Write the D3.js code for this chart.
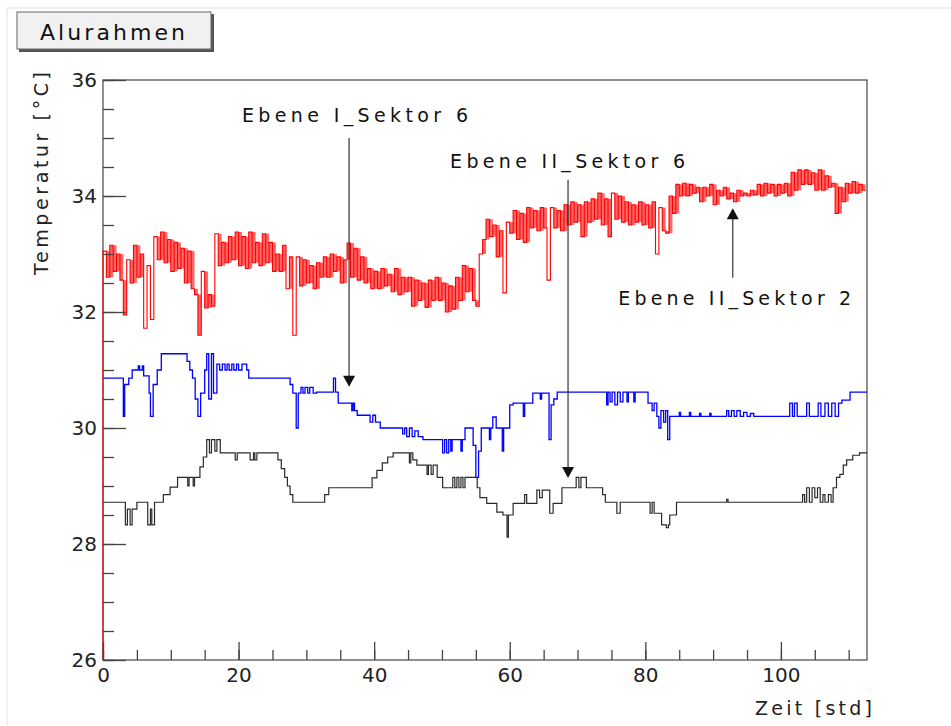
<!DOCTYPE html>
<html>
<head>
<meta charset="utf-8">
<script src="https://cdn.jsdelivr.net/npm/d3@7"></script>
<style>
  body { margin: 0; background: #fff; }
  svg { display: block; font-family: "DejaVu Sans", "Liberation Sans", sans-serif; }
</style>
</head>
<body>
<svg id="chart" width="951" height="726"></svg>
<script>
// time axis in hours, temperature in degC
const xDomain = [0, 112.7]
const yDomain = [26, 36]
const xMajorTicks = [0, 20, 40, 60, 80, 100]
const yMajorTicks = [26, 28, 30, 32, 34, 36]

// Ebene II_Sektor 2 (red) - sampled every half hour, starting at t = 0
const redStep = 0.5
const redTemp = [
  26.0, 33.05, 32.6, 33.15, 32.7, 33.0, 32.55, 31.95, 32.9, 32.5,      // 0 - 4.5
  33.15, 32.6, 33.0, 31.72, 32.8, 31.87, 33.3, 32.9, 33.38, 32.85,     // 5 - 9.5
  33.25, 32.7, 33.2, 32.75, 33.1, 32.5, 33.05, 32.4, 32.3, 31.6,       // 10 - 14.5
  32.7, 32.07, 32.3, 32.1, 33.35, 32.8, 33.2, 32.85, 33.3, 32.9,       // 15 - 19.5
  33.38, 32.8, 33.3, 32.75, 33.38, 32.85, 33.2, 32.8, 33.35, 32.85,    // 20 - 24.5
  33.2, 32.7, 33.0, 32.7, 33.15, 32.4, 32.95, 31.6, 32.95, 32.45,      // 25 - 29.5
  32.9, 32.5, 32.8, 32.4, 32.85, 32.6, 32.95, 32.6, 33.0, 32.7,        // 30 - 34.5
  32.95, 32.5, 32.9, 33.19, 32.6, 33.1, 32.55, 32.95, 32.5, 32.75,     // 35 - 39.5
  32.4, 32.7, 32.4, 32.75, 32.45, 32.65, 32.35, 32.75, 32.3, 32.6,     // 40 - 44.5
  32.35, 32.6, 32.1, 32.55, 32.2, 32.5, 32.08, 32.55, 32.2, 32.6,      // 45 - 49.5
  32.2, 32.5, 32.0, 32.45, 32.05, 32.6, 32.2, 32.8, 32.35, 32.75,      // 50 - 54.5
  32.2, 32.1, 33.0, 33.25, 33.6, 33.3, 33.5, 32.95, 33.4, 32.33,       // 55 - 59.5
  33.55, 33.36, 33.75, 33.25, 33.7, 33.2, 33.8, 33.45, 33.75, 33.4,    // 60 - 64.5
  33.8, 33.45, 32.55, 33.8, 33.45, 33.75, 33.4, 33.85, 33.5, 33.9,     // 65 - 69.5
  33.55, 33.85, 33.3, 33.9, 33.55, 33.95, 33.6, 34.05, 33.5, 33.95,    // 70 - 74.5
  33.3, 34.05, 33.6, 34.0, 33.55, 33.9, 33.5, 33.85, 33.55, 33.9,      // 75 - 79.5
  33.5, 33.85, 33.45, 33.9, 33.0, 33.8, 33.4, 33.36, 34.0, 33.7,       // 80 - 84.5
  34.2, 34.0, 34.22, 34.0, 34.2, 34.05, 34.15, 33.9, 34.15, 34.0,      // 85 - 89.5
  34.2, 33.85, 34.1, 34.0, 34.15, 33.95, 34.05, 33.9, 34.1, 34.0,      // 90 - 94.5
  34.05, 34.0, 34.1, 34.02, 34.2, 34.0, 34.22, 34.05, 34.2, 34.0,      // 95 - 99.5
  34.2, 34.05, 34.22, 34.0, 34.41, 34.1, 34.45, 34.2, 34.45, 34.2,     // 100 - 104.5
  34.4, 34.1, 34.45, 34.1, 34.35, 34.15, 34.22, 33.7, 34.15, 33.9,     // 105 - 109.5
  34.22, 34.05, 34.25, 34.05, 34.2, 34.1                               // 110 - 112.5
]

// Ebene I_Sektor 6 (blue) - change points of the step trace
const blueTime = [
  0, 3.0, 3.2, 3.8, 4.3, 5.2, 5.4, 5.8, 6.0, 6.8, 7.0, 7.4, 8.0, 8.6,
  12.4, 12.8, 13.2, 13.6, 14.0, 14.4, 15.0, 15.3, 15.6, 16.0, 16.3, 16.8, 17.2, 17.6,
  18.0, 18.3, 18.6, 19.0, 19.3, 19.7, 20.0, 20.5, 21.2, 21.5,
  27.6, 28.0, 28.5, 28.8, 29.2, 29.5, 29.8, 30.2, 30.5, 31.0, 31.5,
  34.0, 34.3, 34.7, 36.7, 36.9, 37.1, 37.5,
  39.4, 39.8, 40.2, 40.9, 44.2, 44.5, 44.8, 45.2, 45.6, 46.0, 46.5, 47.2,
  50.1, 50.4, 50.7, 51.0, 51.3, 51.5, 52.8, 53.0, 53.4,
  54.6, 55.0, 55.4, 55.8, 57.0, 57.2, 57.5, 58.0, 58.9, 59.1,
  60.0, 60.5, 62.0, 62.2, 63.4, 64.5, 64.7, 65.8, 66.1, 66.5, 67.0,
  74.3, 74.5, 74.8, 75.1, 75.5, 75.9, 76.3, 76.7, 77.3, 77.5, 78.3, 78.5,
  80.4, 81.0, 81.3, 81.7, 82.0, 82.3, 82.7, 83.0, 83.3, 83.6,
  85.0, 85.2, 86.5, 86.7, 88.0, 88.2, 89.5, 89.7,
  92.0, 92.3, 92.7, 93.1, 93.5, 94.0, 94.5, 95.0, 95.5, 96.0,
  101.3, 101.7, 102.0, 102.4, 103.8, 104.2, 105.5, 105.9, 106.5, 107.0, 107.5, 108.0, 108.5,
  109.0, 110.2, 112.7
]
const blueTemp = [
  30.86, 30.2, 30.75, 30.86, 31.0, 31.07, 31.0, 31.07, 30.9, 30.6, 30.2, 30.75, 31.0, 31.28,
  31.15, 31.0, 30.86, 30.5, 30.2, 30.6, 31.0, 31.28, 30.5, 31.28, 30.6, 31.1, 31.0, 31.1,
  31.0, 31.1, 31.0, 31.1, 31.0, 31.1, 31.0, 31.1, 31.0, 30.86,
  30.75, 30.6, 30.0, 30.6, 30.7, 30.6, 30.7, 30.6, 30.7, 30.6, 30.62,
  30.86, 30.62, 30.43, 30.3, 30.43, 30.3, 30.22,
  30.1, 30.22, 30.1, 30.0, 29.9, 30.0, 29.85, 30.0, 29.85, 29.95, 29.85, 29.8,
  29.57, 29.8, 29.57, 29.8, 29.6, 29.8, 29.6, 29.8, 30.0,
  29.7, 29.15, 29.6, 30.0, 29.8, 30.0, 30.19, 30.0, 29.6, 30.0,
  30.4, 30.43, 30.2, 30.43, 30.6, 30.5, 30.6, 29.8, 30.4, 30.5, 30.62,
  30.4, 30.62, 30.45, 30.62, 30.4, 30.62, 30.45, 30.62, 30.45, 30.62, 30.45, 30.62,
  30.43, 30.3, 30.43, 30.2, 30.0, 30.3, 30.1, 30.3, 29.8, 30.2,
  30.27, 30.2, 30.27, 30.2, 30.25, 30.2, 30.25, 30.2,
  30.3, 30.2, 30.3, 30.2, 30.3, 30.2, 30.27, 30.2, 30.25, 30.2,
  30.43, 30.2, 30.43, 30.2, 30.43, 30.2, 30.43, 30.2, 30.43, 30.2, 30.43, 30.2, 30.43,
  30.48, 30.62, 30.62
]

// Ebene II_Sektor 6 (black) - change points of the step trace
const blackTime = [
  0, 3.3, 3.6, 4.0, 4.3, 5.0, 6.6, 7.0, 7.2, 7.6, 8.9, 9.9, 11.0,
  12.5, 12.7, 13.3, 13.5, 14.3, 14.8, 15.3, 15.7, 16.0, 16.5, 16.8, 17.3,
  19.5, 19.8, 21.7, 22.2, 22.4, 22.7,
  25.8, 26.3, 26.8, 27.2, 27.6, 28.0, 32.7, 33.3,
  39.7, 40.4, 41.2, 42.0, 42.8, 45.2, 45.4, 45.7, 46.3, 47.8, 48.0, 48.4, 48.7, 49.3,
  50.1, 51.6, 51.9, 52.2, 52.5, 52.8, 53.1, 53.4,
  55.2, 55.6, 56.6, 58.1, 59.0, 59.6, 59.8, 60.5, 62.2, 62.5,
  64.0, 64.4, 64.8, 65.9, 66.4, 67.7, 69.8, 70.2, 70.5, 71.3,
  73.7, 74.1, 75.8, 76.3, 80.7, 81.0, 81.3, 82.4, 83.1, 83.4, 83.6, 84.6,
  92.0, 92.2, 103.2, 103.5, 103.8, 104.2, 104.6, 105.0, 105.4, 105.8, 106.2, 106.5,
  107.0, 107.4, 107.7, 108.2, 108.7, 109.2, 109.7, 110.6, 111.6, 112.7
]
const blackTemp = [
  28.72, 28.33, 28.6, 28.33, 28.6, 28.72, 28.33, 28.6, 28.33, 28.72, 28.85, 28.98, 29.15,
  29.0, 29.15, 29.0, 29.15, 29.33, 29.5, 29.8, 29.57, 29.8, 29.6, 29.8, 29.57,
  29.45, 29.57, 29.45, 29.57, 29.45, 29.57,
  29.45, 29.3, 29.15, 29.0, 28.85, 28.72, 28.85, 28.97,
  29.14, 29.27, 29.4, 29.5, 29.57, 29.4, 29.57, 29.45, 29.36, 29.2, 29.36, 29.2, 29.36, 29.15,
  28.97, 29.15, 28.97, 29.15, 28.97, 29.15, 28.97, 29.15,
  28.97, 28.8, 28.7, 28.55, 28.5, 28.12, 28.5, 28.7, 28.85, 28.7,
  28.93, 28.8, 28.93, 28.53, 28.7, 28.97, 29.15, 28.97, 29.15, 28.97,
  28.85, 28.72, 28.53, 28.72, 28.53, 28.72, 28.53, 28.33, 28.28, 28.33, 28.5, 28.72,
  28.77, 28.72, 28.85, 28.72, 28.97, 28.72, 28.97, 28.8, 28.97, 28.72, 28.85, 28.72,
  28.85, 28.72, 28.97, 29.15, 29.2, 29.36, 29.45, 29.53, 29.57, 29.57
]

// arrows: label position and arrow tail/tip in data units
const noteText = ['Ebene I_Sektor 6', 'Ebene II_Sektor 6', 'Ebene II_Sektor 2']
const noteTextAt = [[20.5, 35.28], [51.2, 34.48], [76.0, 32.12]]
const noteTextWidth = [226, 235, 233]
const noteArrowX = [36.3, 68.6, 92.9]
const noteArrowFrom = [35.0, 34.28, 32.59]
const noteArrowTo = [30.71, 29.14, 33.79]

const svg = d3.select('#chart')
const margin = { top: 80, right: 84, bottom: 66, left: 103 }
const width = 951 - margin.left - margin.right
const height = 726 - margin.top - margin.bottom

// canvas frame + button
svg.append('path')
    .attr('d', 'M7,726V8H951')
    .attr('fill', 'none')
    .attr('stroke', '#e2e2e2')
svg.append('rect')
    .attr('x', 19).attr('y', 14).attr('width', 195).attr('height', 38)
    .attr('fill', '#555')
svg.append('rect')
    .attr('x', 17).attr('y', 12).attr('width', 194).attr('height', 37)
    .attr('fill', '#f1f1f1')
    .attr('stroke', '#666')
svg.append('text')
    .attr('x', 40).attr('y', 40)
    .attr('font-size', 22)
    .attr('textLength', 145)
    .attr('lengthAdjust', 'spacing')
    .attr('fill', '#111')
    .text('Alurahmen')

const g = svg.append('g').attr('transform', `translate(${margin.left},${margin.top})`)

const x = d3.scaleLinear().domain(xDomain).range([0, width])
const y = d3.scaleLinear().domain(yDomain).range([height, 0])

// frame first, traces go on top of it
g.append('rect')
    .attr('width', width).attr('height', height)
    .attr('fill', 'none')
    .attr('stroke', '#555')
    .attr('stroke-width', 1.3)

// data traces
const redPoints = redTemp.map((v, i) => [i * redStep, v])
const bluePoints = blueTime.map((t, i) => [t, blueTemp[i]])
const blackPoints = blackTime.map((t, i) => [t, blackTemp[i]])

const plot = g.append('g')
plot.append('path')
    .datum(blackPoints)
    .attr('fill', 'none')
    .attr('stroke', '#2a2a2a')
    .attr('stroke-width', 1.2)
    .attr('d', d3.line().x(d => x(d[0])).y(d => y(d[1])).curve(d3.curveStepAfter))
plot.append('path')
    .datum(bluePoints)
    .attr('fill', 'none')
    .attr('stroke', '#0000ff')
    .attr('stroke-width', 1.3)
    .attr('d', d3.line().x(d => x(d[0])).y(d => y(d[1])).curve(d3.curveStepAfter))

// the red channel flickers fast: shade the range between neighbouring samples,
// big jumps (single spikes) stay as thin lines only
const redPairs = d3.pairs(redPoints).filter(([a, b]) => Math.abs(a[1] - b[1]) < 0.7)
plot.append('g')
    .selectAll('rect')
    .data(redPairs)
    .join('rect')
    .attr('x', d => x(d[0][0]))
    .attr('width', d => x(d[1][0]) - x(d[0][0]))
    .attr('y', d => y(Math.max(d[0][1], d[1][1])))
    .attr('height', d => Math.abs(y(d[0][1]) - y(d[1][1])))
    .attr('fill', '#ff0000')
    .attr('fill-opacity', 0.6)
plot.append('path')
    .datum(redPoints)
    .attr('fill', 'none')
    .attr('stroke', '#ff0000')
    .attr('stroke-width', 1.1)
    .attr('d', d3.line().x(d => x(d[0])).y(d => y(d[1])).curve(d3.curveStepBefore))

// axes: ticks point inwards
const xMinor = d3.range(0, xDomain[1], 5)
const yMinor = d3.range(26, 36.01, 0.5)
g.append('g')
    .attr('transform', `translate(0,${height})`)
    .call(d3.axisBottom(x).tickValues(xMinor).tickSize(-10).tickFormat(''))
g.append('g')
    .attr('transform', `translate(0,${height})`)
    .call(d3.axisBottom(x).tickValues(xMajorTicks).tickSize(-18).tickPadding(8))
g.append('g')
    .call(d3.axisLeft(y).tickValues(yMinor).tickSize(-11).tickFormat(''))
g.append('g')
    .call(d3.axisLeft(y).tickValues(yMajorTicks).tickSize(-23).tickPadding(6))
g.selectAll('.domain').remove()
g.selectAll('.tick line').attr('stroke', '#444').attr('stroke-width', 1.3)
g.selectAll('.tick text')
    .attr('font-size', 20)
    .attr('font-family', '"DejaVu Sans", sans-serif')
    .attr('fill', '#222')

// axis titles
g.append('text')
    .attr('x', width + 5).attr('y', height + 55)
    .attr('text-anchor', 'end')
    .attr('font-size', 19)
    .attr('fill', '#222')
    .attr('textLength', 117)
    .attr('lengthAdjust', 'spacing')
    .text('Zeit  [std]')
g.append('text')
    .attr('transform', 'rotate(-90)')
    .attr('x', 8).attr('y', -55)
    .attr('text-anchor', 'end')
    .attr('font-size', 19)
    .attr('fill', '#222')
    .attr('textLength', 203)
    .attr('lengthAdjust', 'spacing')
    .text('Temperatur  [°C]')

// annotations
const notes = g.append('g')
noteText.forEach((txt, i) => {
    notes.append('text')
        .attr('x', x(noteTextAt[i][0]))
        .attr('y', y(noteTextAt[i][1]))
        .attr('font-size', 19)
        .attr('fill', '#111')
        .attr('textLength', noteTextWidth[i])
        .attr('lengthAdjust', 'spacing')
        .text(txt)
    const ax = x(noteArrowX[i])
    const y0 = y(noteArrowFrom[i])
    const y1 = y(noteArrowTo[i])
    const dir = y1 > y0 ? 1 : -1
    notes.append('line')
        .attr('x1', ax).attr('x2', ax)
        .attr('y1', y0).attr('y2', y1 - dir * 4)
        .attr('stroke', '#333')
        .attr('stroke-width', 1.2)
    notes.append('path')
        .attr('d', `M${ax},${y1}L${ax - 6},${y1 - dir * 11}L${ax + 6},${y1 - dir * 11}Z`)
        .attr('fill', '#111')
})
</script>
</body>
</html>
